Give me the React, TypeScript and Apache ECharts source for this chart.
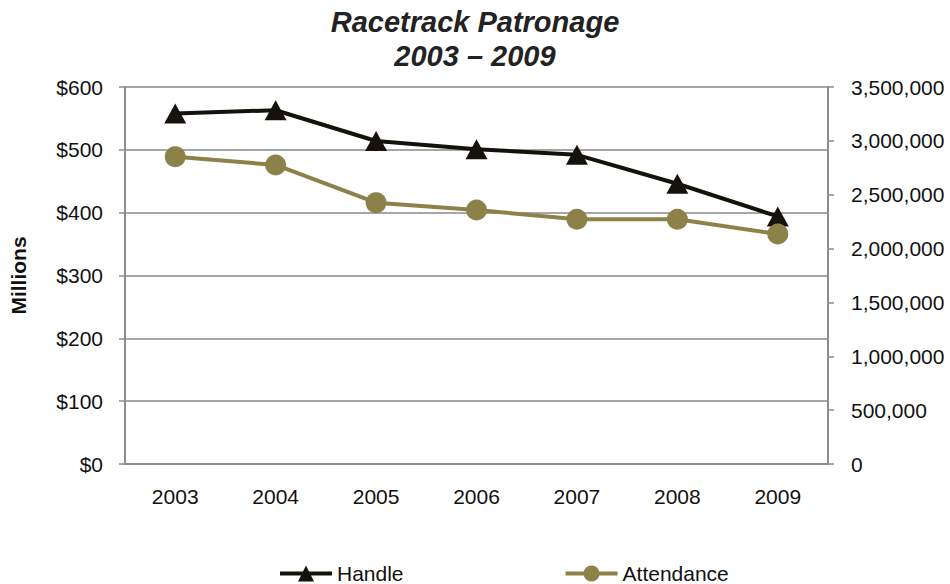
import React, { useEffect, useRef } from "react";
import * as echarts from "echarts";

const years = ["2003", "2004", "2005", "2006", "2007", "2008", "2009"];
// Wagering handle, millions of dollars
const handle = [558, 563, 514, 501, 492, 446, 394];
// Paid attendance, persons
const attendance = [2853000, 2776000, 2426000, 2358000, 2272000, 2272000, 2135000];

const FONT = "'Liberation Sans', Arial, sans-serif";
const AXIS_GREY = "#8c8c8c";

export default function App() {
  const ref = useRef<HTMLDivElement>(null);

  useEffect(() => {
    if (!ref.current) return;
    const chart = echarts.init(ref.current, undefined, { renderer: "svg" });
    chart.setOption({
      animation: false,
      backgroundColor: "#ffffff",
      title: {
        text: "Racetrack Patronage\n2003 – 2009",
        left: "center",
        top: 0,
        textStyle: {
          fontFamily: FONT,
          fontSize: 29,
          fontStyle: "italic",
          fontWeight: "bold",
          color: "#222",
          lineHeight: 34,
        },
      },
      legend: {
        top: 558,
        left: 273,
        itemGap: 160,
        itemWidth: 52,
        itemHeight: 20,
        lineStyle: { width: 4 },
        textStyle: { fontFamily: FONT, fontSize: 21, color: "#111" },
        data: ["Handle", "Attendance"],
      },
      grid: { left: 123, right: 122, top: 87, bottom: 120 },
      xAxis: {
        type: "category",
        data: years,
        boundaryGap: true,
        axisLine: { lineStyle: { color: AXIS_GREY, width: 2 } },
        axisTick: { alignWithLabel: true, length: 6, lineStyle: { color: AXIS_GREY, width: 1.5 } },
        axisLabel: { fontFamily: FONT, fontSize: 21, color: "#111", margin: 22 },
      },
      yAxis: [
        {
          type: "value",
          min: 0,
          max: 600,
          interval: 100,
          name: "Millions",
          nameLocation: "middle",
          nameRotate: 90,
          nameGap: 96,
          nameTextStyle: { fontFamily: FONT, fontSize: 21, fontWeight: "bold", color: "#111" },
          axisLine: { show: true, lineStyle: { color: AXIS_GREY, width: 2 } },
          axisTick: { show: true, length: 6, lineStyle: { color: AXIS_GREY, width: 1.5 } },
          axisLabel: {
            fontFamily: FONT,
            fontSize: 21,
            color: "#111",
            margin: 22,
            formatter: (v: number) => "$" + v,
          },
          splitLine: { show: true, lineStyle: { color: "#a6a6a6", width: 2 } },
        },
        {
          type: "value",
          min: 0,
          max: 3500000,
          interval: 500000,
          position: "right",
          axisLine: { show: true, lineStyle: { color: AXIS_GREY, width: 2 } },
          axisTick: { show: true, length: 6, lineStyle: { color: AXIS_GREY, width: 1.5 } },
          axisLabel: {
            fontFamily: FONT,
            fontSize: 21,
            color: "#111",
            margin: 23,
            formatter: (v: number) => v.toLocaleString("en-US"),
          },
          splitLine: { show: false },
        },
      ],
      series: [
        {
          name: "Handle",
          type: "line",
          yAxisIndex: 0,
          data: handle,
          symbol: "triangle",
          symbolSize: [22, 20],
          lineStyle: { color: "#14120b", width: 4 },
          itemStyle: { color: "#14120b" },
          z: 3,
        },
        {
          name: "Attendance",
          type: "line",
          yAxisIndex: 1,
          data: attendance,
          symbol: "circle",
          symbolSize: 21,
          lineStyle: { color: "#8c8249", width: 4 },
          itemStyle: { color: "#8c8249" },
          z: 4,
        },
      ],
    });
    return () => chart.dispose();
  }, []);

  return (
    <div
      ref={ref}
      style={{ position: "fixed", left: 0, top: 0, width: 950, height: 584 }}
    />
  );
}
